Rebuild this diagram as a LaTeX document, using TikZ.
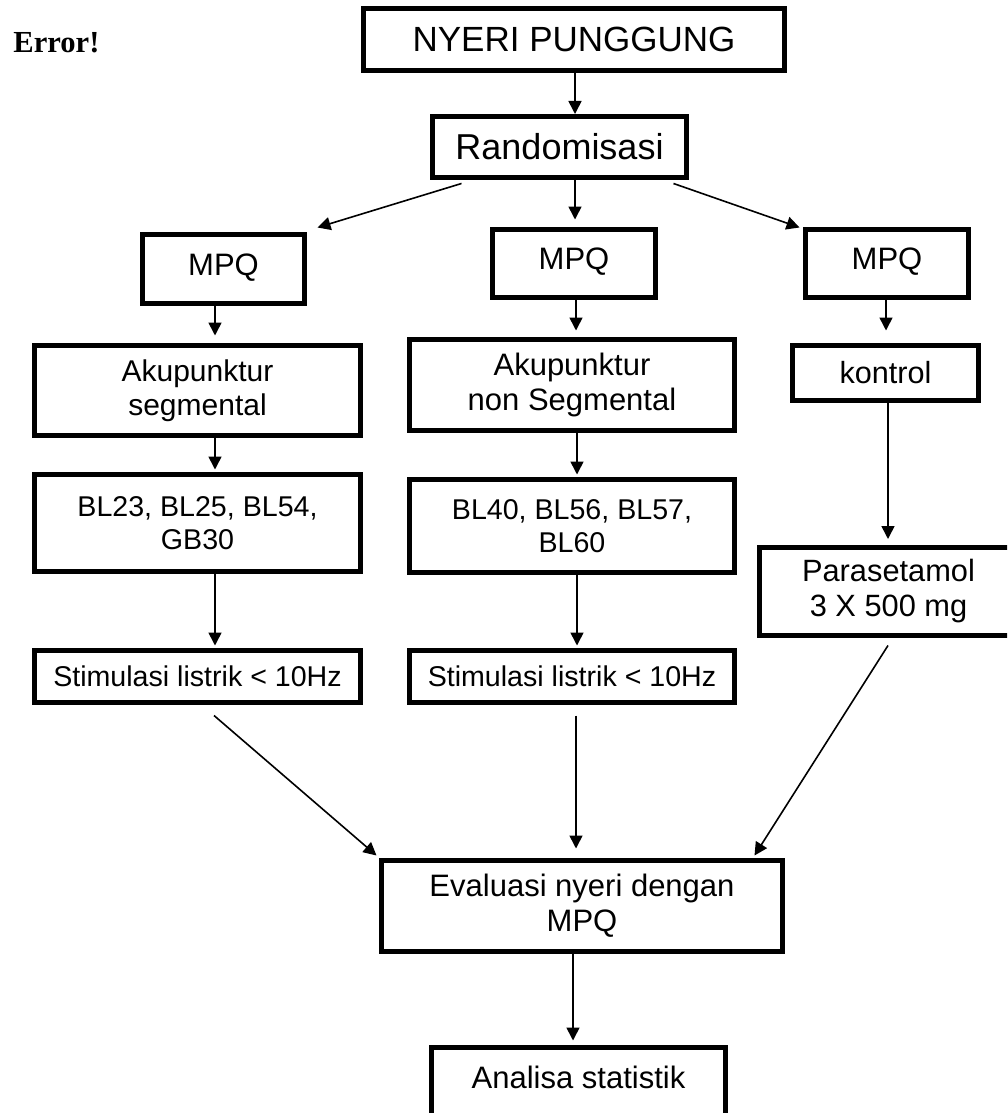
\documentclass[tikz,border=0pt]{standalone}
\usepackage{fontspec}
\setmainfont{Liberation Sans}
\newfontfamily\errfont{Liberation Serif}
\usetikzlibrary{arrows.meta,calc}
\begin{document}
\begin{tikzpicture}[x=0.5pt,y=-0.5pt,
  box/.style={draw, line width=2.5pt, inner sep=0pt, align=center},
  arr/.style={line width=0.8pt, -{Triangle[length=6.5pt,width=6.5pt]}},
  ln/.style={line width=0.8pt},
  fbig/.style={font=\fontsize{17.5}{20}\selectfont},
  fmid/.style={font=\fontsize{15.5}{17.5}\selectfont},
  fsmall/.style={font=\fontsize{14.3}{16.5}\selectfont}]
\useasboundingbox (0,0) rectangle (1007,1113);
\clip (0,0) rectangle (1007,1113);

\node[anchor=base west, inner sep=0pt, font={\errfont\bfseries\fontsize{15.3}{18}\selectfont}] (err) at (13,53) {Error!};

\node[box, fbig, minimum width=210.5pt, minimum height=31pt] (nyeri) at (574,39.5) {NYERI PUNGGUNG};
\node[box, font=\fontsize{18}{20}\selectfont, minimum width=127pt, minimum height=30.5pt] (rand) at (559.5,147) {Randomisasi};

\node[box, fmid, text depth=4.5pt, minimum width=81pt, minimum height=34.5pt] (mpq1) at (223.5,269) {MPQ};
\node[box, fmid, text depth=4.5pt, minimum width=81.5pt, minimum height=34pt] (mpq2) at (574,263.5) {MPQ};
\node[box, fmid, text depth=4.5pt, minimum width=81.5pt, minimum height=34pt] (mpq3) at (887,263.5) {MPQ};

\node[box, font=\fontsize{15}{17}\selectfont, minimum width=163pt, minimum height=45pt] (aku1) at (197.5,390.5) {Akupunktur\\segmental};
\node[box, fmid, minimum width=162.5pt, minimum height=45.5pt] (aku2) at (572,385) {Akupunktur\\non Segmental};
\node[box, font=\fontsize{15.3}{17}\selectfont, minimum width=93pt, minimum height=27.5pt] (kontrol) at (885.5,373) {kontrol};

\node[box, fsmall, minimum width=163pt, minimum height=48.5pt] (bl1) at (197.5,523) {BL23, BL25, BL54,\\GB30};
\node[box, fsmall, minimum width=162.5pt, minimum height=46.5pt] (bl2) at (572,526) {BL40, BL56, BL57,\\BL60};
\node[box, font=\fontsize{15.4}{17.5}\selectfont, minimum width=129pt, minimum height=44pt] (para) at (888.5,591.5) {Parasetamol\\3 X 500 mg};

\node[box, fsmall, minimum width=163pt, minimum height=26pt] (stim1) at (197.5,676.5) {Stimulasi listrik < 10Hz};
\node[box, fsmall, minimum width=162.5pt, minimum height=26pt] (stim2) at (572,676.5) {Stimulasi listrik < 10Hz};

\node[box, fmid, minimum width=200.5pt, minimum height=45.5pt] (eval) at (582,906) {Evaluasi nyeri dengan\\MPQ};
\node[box, fmid, text depth=5pt, minimum width=147pt, minimum height=35pt] (anal) at (578.5,1082.5) {Analisa statistik};

% connectors
\draw[arr] ($(nyeri.south)+(1,0)$) -- ($(rand.north)+(15.5,0)$);
\draw[arr] ($(rand.south west)+(31.5,3.5)$) -- ($(mpq1.north east)+(10.5,-4.5)$);
\draw[arr] ($(rand.south)+(15.5,0)$) -- ($(mpq2.north)+(1,-7.5)$);
\draw[arr] ($(rand.south east)+(-15.5,3.5)$) -- ($(mpq3.north west)+(-3.5,0.5)$);

\draw[arr] ($(mpq1.south)+(-8.5,0)$) -- ($(aku1.north)+(17.5,-7.5)$);
\draw[arr] ($(mpq2.south)+(2,0)$) -- ($(aku2.north)+(4,-6.5)$);
\draw[arr] ($(mpq3.south)+(-1,0)$) -- ($(kontrol.north)+(0.5,-12.5)$);

\draw[arr] ($(aku1.south)+(17.5,0)$) -- ($(bl1.north)+(17.5,-2.5)$);
\draw[arr] ($(aku2.south)+(5,0)$) -- ($(bl2.north)+(5,-2.5)$);
\draw[arr] ($(kontrol.south)+(2.5,0)$) -- ($(para.north)+(-0.5,-6)$);

\draw[arr] ($(bl1.south)+(17.5,-4)$) -- ($(stim1.north)+(17.5,-2.5)$);
\draw[arr] ($(bl2.south)+(5,0)$) -- ($(stim2.north)+(5,-2.5)$);

\draw[arr] ($(stim1.south)+(16.5,10.5)$) -- ($(eval.north west)+(-2.5,-2.5)$);
\draw[arr] ($(stim2.south)+(4,10.5)$) -- ($(eval.north)+(-6,-9.5)$);
\draw[arr] ($(para.south)+(-0.5,7.5)$) -- ($(eval.north east)+(-30.5,-2.5)$);

\draw[arr] ($(eval.south)+(-9,0)$) -- ($(anal.north)+(-5.5,-4.5)$);
\end{tikzpicture}
\end{document}
